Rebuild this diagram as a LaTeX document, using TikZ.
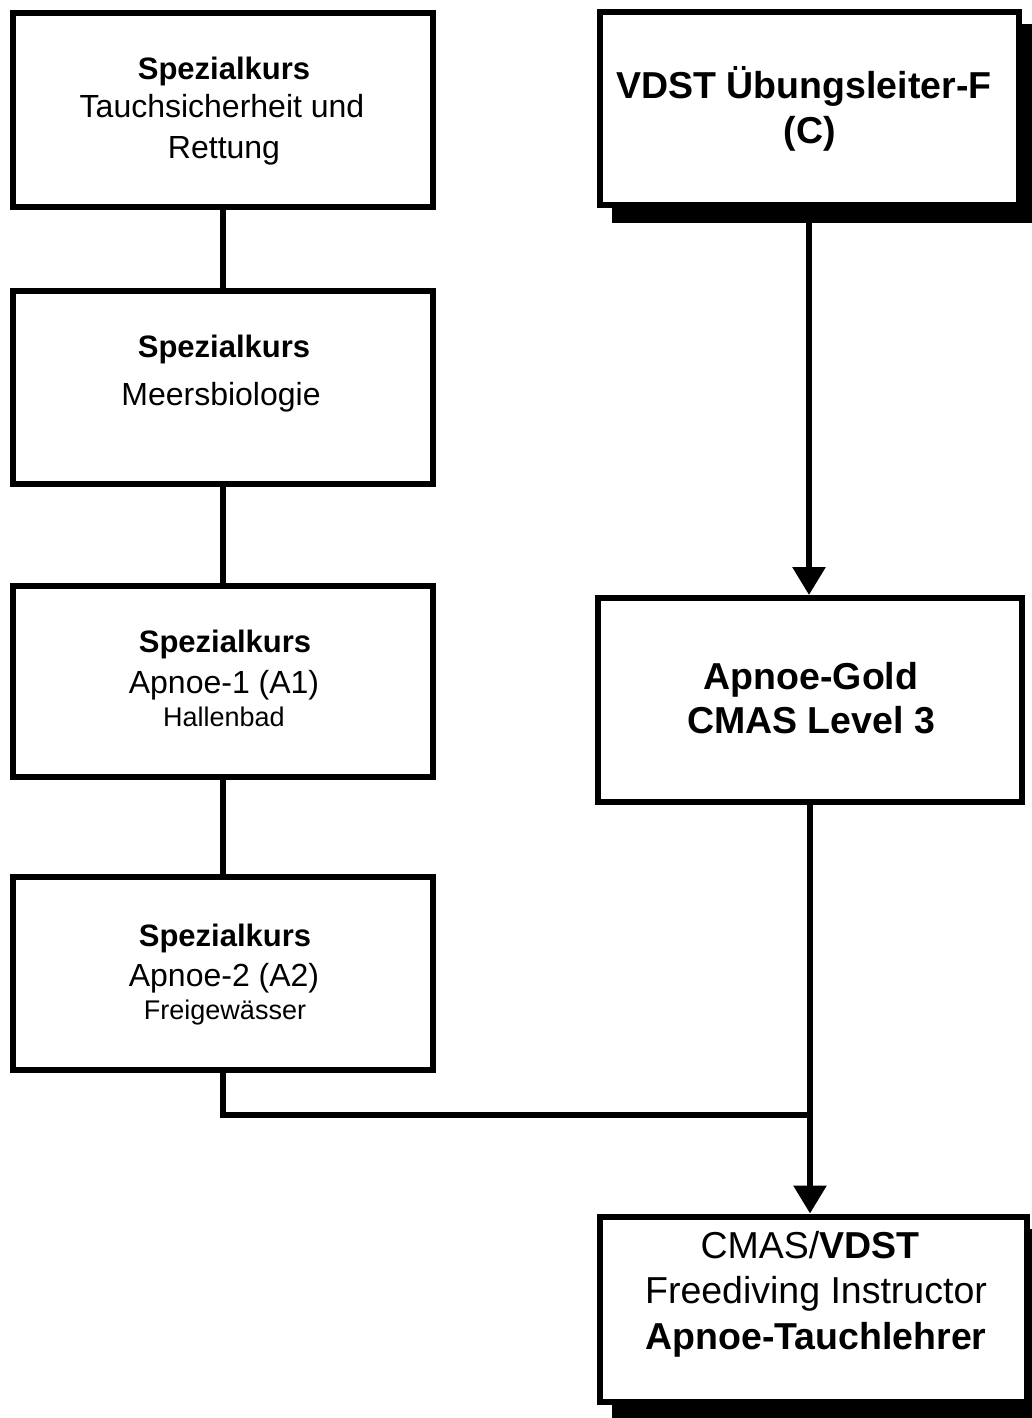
\documentclass[tikz,border=0pt]{standalone}
\usepackage{fontspec}
\setmainfont{Liberation Sans}
\usetikzlibrary{arrows.meta}
\begin{document}
\begin{tikzpicture}[x=0.5pt,y=-0.5pt,
  box/.style={draw=black,line width=3pt,fill=white,inner sep=0pt},
  shadowed/.style={preaction={draw=black,fill=black,line width=3pt,
      transform canvas={xshift=7.5pt,yshift=-7.5pt}}},
  conn/.style={line width=3pt},
  arr/.style={line width=3pt,-{Triangle[width=16pt,length=14pt]}},
  ln/.style={anchor=base,inner sep=0pt,text=black},
  hd/.style={ln,font=\fontsize{15.5}{18}\selectfont\bfseries},
  rg/.style={ln,font=\fontsize{16}{19}\selectfont},
  sm/.style={ln,font=\fontsize{13.5}{16}\selectfont},
  big/.style={ln,font=\fontsize{18.75}{22}\selectfont\bfseries},
  bigr/.style={ln,font=\fontsize{18.75}{22}\selectfont}]
\useasboundingbox (0,0) rectangle (1032,1418);
% left column boxes
\node[box,minimum width=210pt,minimum height=97pt] (b1) at (223,110) {};
\node[box,minimum width=210pt,minimum height=96.5pt] (b2) at (223,387.5) {};
\node[box,minimum width=210pt,minimum height=95.5pt] (b3) at (223,681.5) {};
\node[box,minimum width=210pt,minimum height=96.5pt] (b4) at (223,973.5) {};
% right column boxes
\node[box,shadowed,minimum width=209.5pt,minimum height=96.5pt] (v) at (809,108.5) {};
\node[box,minimum width=212pt,minimum height=102pt] (g) at (810,700) {};
\node[box,shadowed,minimum width=213.5pt,minimum height=92.5pt] (t) at (813,1309) {};
% connectors
\draw[conn] (b1) -- (b2);
\draw[conn] (b2) -- (b3);
\draw[conn] (b3) -- (b4);
\coordinate (j) at (810,1115);
\draw[conn] (b4.south) |- (j);
\draw[arr] (v.south) -- (v.south |- g.north);
\draw[arr] (g.south) -- (g.south |- t.north);
% texts
\node[hd] (b1a) at (224,80) {Spezialkurs};
\node[rg] (b1b) at (222,118) {Tauchsicherheit und};
\node[rg] (b1c) at (224,158) {Rettung};
\node[hd] (b2a) at (224,357) {Spezialkurs};
\node[rg] (b2b) at (221,405) {Meersbiologie};
\node[hd] (b3a) at (225,652) {Spezialkurs};
\node[rg] (b3b) at (224,693) {Apnoe-1 (A1)};
\node[sm] (b3c) at (224,726) {Hallenbad};
\node[hd] (b4a) at (225,946) {Spezialkurs};
\node[rg] (b4b) at (224,986) {Apnoe-2 (A2)};
\node[sm] (b4c) at (225,1019) {Freigewässer};
\node[big] (va) at (804,98) {VDST Übungsleiter-F};
\node[big] (vb) at (810,143) {(C)};
\node[big] (ga) at (811,689) {Apnoe-Gold};
\node[big] (gb) at (811,733) {CMAS Level 3};
\node[bigr] (ta) at (810,1258) {CMAS/\textbf{VDST}};
\node[bigr] (tb) at (816,1303) {Freediving Instructor};
\node[big] (tc) at (816,1349) {Apnoe-Tauchlehrer};
\end{tikzpicture}
\end{document}
